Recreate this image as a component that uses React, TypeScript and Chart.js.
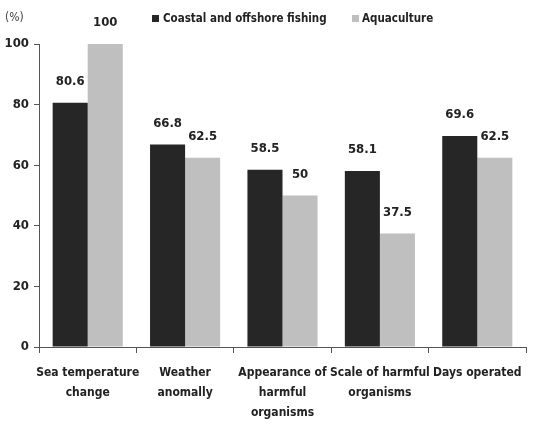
import React, { useEffect, useRef } from "react";
import { Chart, registerables } from "chart.js";
Chart.register(...registerables);

const categories: string[][] = [
  ["Sea temperature", "change"],
  ["Weather", "anomally"],
  ["Appearance of", "harmful", "organisms"],
  ["Scale of harmful", "organisms"],
  ["Days operated"],
];
const coastal = [80.6, 66.8, 58.5, 58.1, 69.6];
const aquaculture = [100, 62.5, 50, 37.5, 62.5];
const coastalLabels = ["80.6", "66.8", "58.5", "58.1", "69.6"];
const aquaLabels = ["100", "62.5", "50", "37.5", "62.5"];
const seriesNames = ["Coastal and offshore fishing", "Aquaculture"];
const unitLabel = "(%)";

const FONT = "'DejaVu Sans Condensed', sans-serif";
const DARK = "#262626";
const LIGHT = "#bfbfbf";

const extras = {
  id: "extras",
  afterDatasetsDraw(chart: any) {
    const ctx = chart.ctx;
    ctx.save();
    ctx.font = `bold 13px ${FONT}`;
    ctx.fillStyle = "#222";
    ctx.textAlign = "center";
    ctx.textBaseline = "middle";
    const labels = [coastalLabels, aquaLabels];
    chart.data.datasets.forEach((ds: any, i: number) => {
      const meta = chart.getDatasetMeta(i);
      meta.data.forEach((bar: any, j: number) => {
        ctx.fillText(labels[i][j], bar.x, bar.y - 21);
      });
    });
    // unit label
    ctx.font = `12px ${FONT}`;
    ctx.fillStyle = "#444";
    ctx.textAlign = "left";
    ctx.fillText(unitLabel, 5, 18);
    // legend
    ctx.font = `bold 11.5px ${FONT}`;
    ctx.fillStyle = DARK;
    ctx.fillRect(152, 15, 7, 7);
    ctx.fillStyle = "#222";
    ctx.fillText(seriesNames[0], 163, 19);
    ctx.fillStyle = LIGHT;
    ctx.fillRect(352, 15, 7, 7);
    ctx.fillStyle = "#222";
    ctx.fillText(seriesNames[1], 362, 19);
    ctx.restore();
  },
};

export default function App() {
  const ref = useRef<HTMLCanvasElement>(null);
  useEffect(() => {
    document.body.style.margin = "0";
    const chart = new Chart(ref.current!, {
      type: "bar",
      data: {
        labels: categories,
        datasets: [
          { label: seriesNames[0], data: coastal, backgroundColor: DARK, barPercentage: 1, categoryPercentage: 0.72 },
          { label: seriesNames[1], data: aquaculture, backgroundColor: LIGHT, barPercentage: 1, categoryPercentage: 0.72 },
        ],
      },
      options: {
        animation: false,
        responsive: false,
        maintainAspectRatio: false,
        layout: { padding: { top: 44, right: 16, left: 0, bottom: 0 } },
        plugins: { legend: { display: false }, tooltip: { enabled: false } },
        scales: {
          x: {
            grid: { offset: true, drawOnChartArea: false, drawTicks: true, tickLength: 6, color: "#555" },
            border: { color: "#555", width: 1 },
            ticks: { color: "#222", font: { family: FONT, size: 12, weight: "bold", lineHeight: 1.65 }, padding: 10, maxRotation: 0, autoSkip: false },
            afterFit: (s: any) => { s.height = 85; },
          },
          y: {
            min: 0,
            max: 100,
            grid: { drawOnChartArea: false, drawTicks: true, tickLength: 5, color: "#555" },
            border: { color: "#555", width: 1 },
            ticks: { stepSize: 20, color: "#222", font: { family: FONT, size: 13, weight: "bold" }, padding: 5 },
            afterFit: (s: any) => { s.width = 39; },
          },
        },
      },
      plugins: [extras],
    });
    return () => chart.destroy();
  }, []);
  return <canvas ref={ref} width={542} height={432} style={{ display: "block" }} />;
}
